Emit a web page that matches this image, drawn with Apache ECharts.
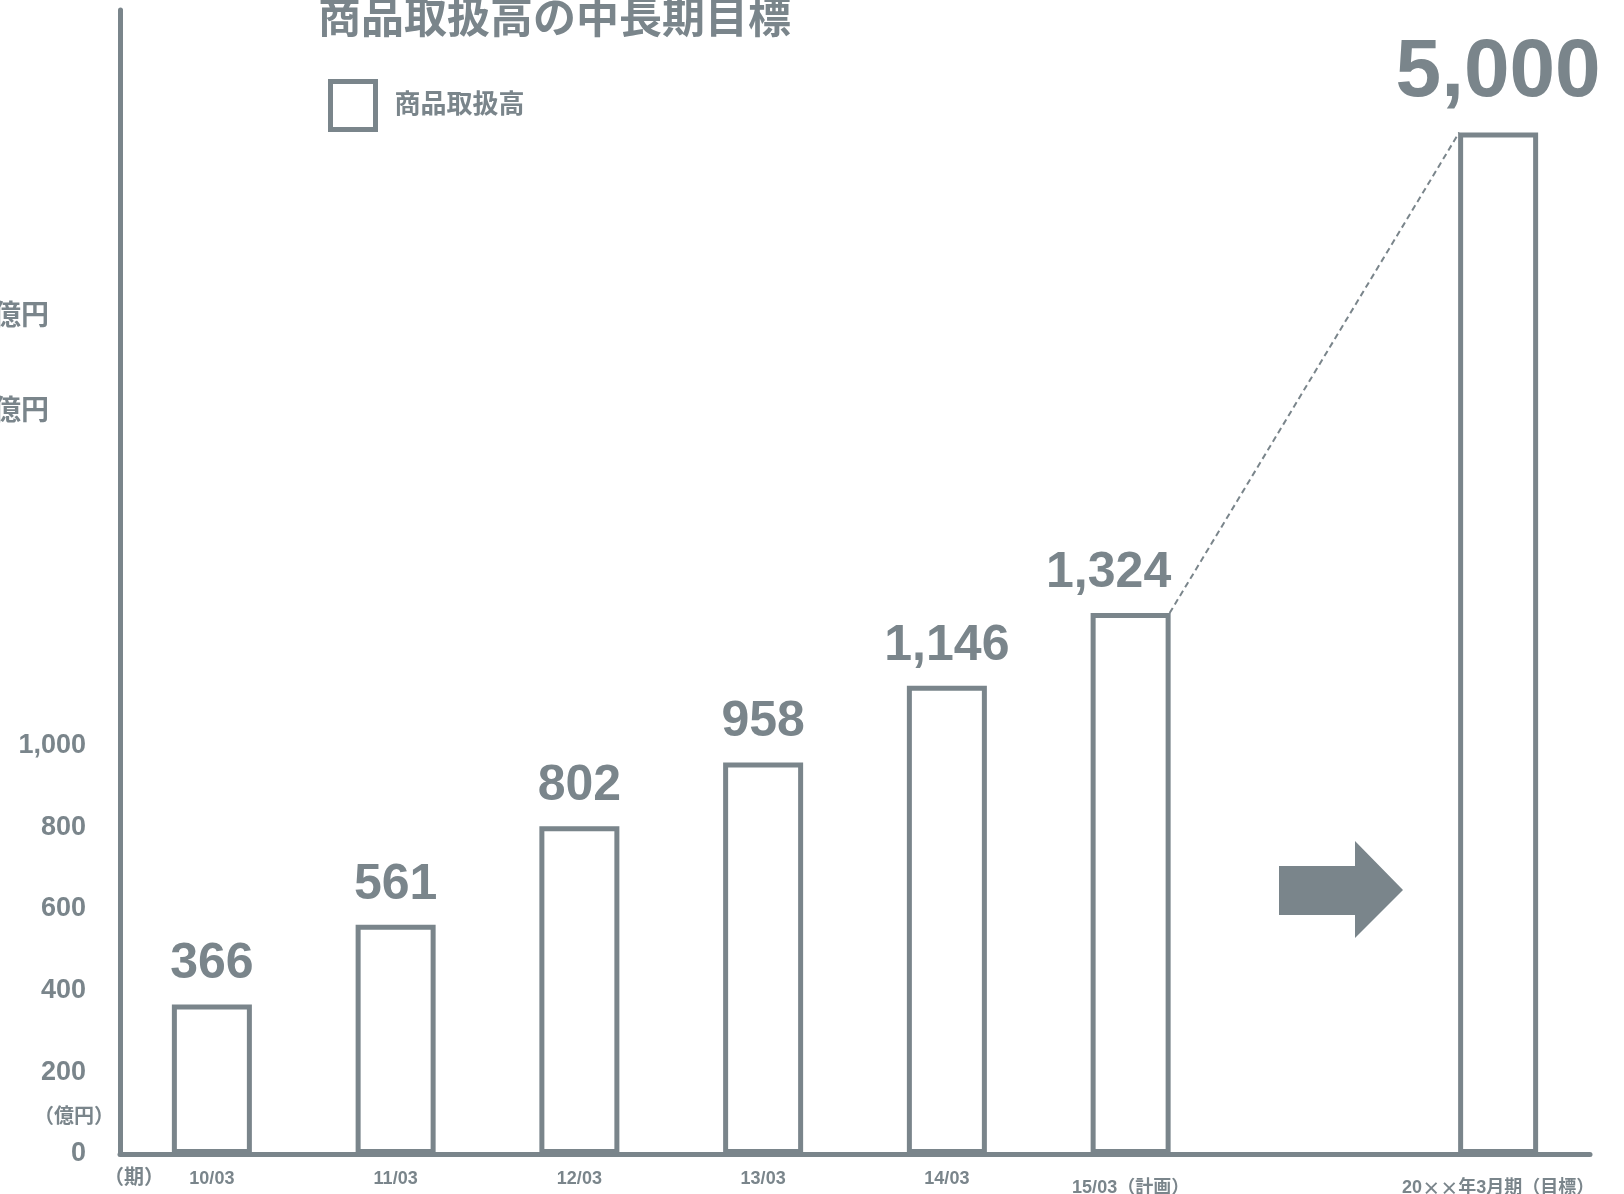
<!DOCTYPE html>
<html>
<head>
<meta charset="utf-8">
<script src="https://cdn.jsdelivr.net/npm/echarts@6/dist/echarts.min.js"></script>
<style>
html, body { margin: 0; padding: 0; background: #fff; }
#chart { width: 1624px; height: 1194px; }
</style>
</head>
<body>
<div id="chart"></div>
<script>
// 期
var categories = ['10/03', '11/03', '12/03', '13/03', '14/03', '15/03（計画）', '', '20××年3月期（目標）'];
// 商品取扱高（億円）, '-' = 矢印の入る空き枠
var amounts = [366, 561, 802, 958, 1146, 1324, '-', 5000];
var yTicks = [0, 200, 400, 600, 800, 1000];

var GREY = '#7a858b';
var FONT = '"Liberation Sans", "Noto Sans CJK JP", sans-serif';
var CJK = '"Noto Sans CJK JP", sans-serif';
var BAR_W = 80, BORDER = 5;

// 目標値は縦軸を省略して1/2スケールで描く
function drawValue(v) {
	if (v === '-') return v;
	return v > 2000 ? v / 2 : v;
}
function fmt(v) {
	return String(v).replace(/\B(?=(\d{3})+(?!\d))/g, ',');
}

var barData = [];
for (var i = 0; i < amounts.length; i++) {
	var item = { value: drawValue(amounts[i]) };
	if (i === 5) {
		item.label = { offset: [-22, 0] };
	}
	if (i === amounts.length - 1) {
		item.label = { fontSize: 82, distance: 18 };
	}
	barData.push(item);
}

var xData = [];
for (var j = 0; j < categories.length; j++) {
	var c = { value: categories[j] };
	if (j >= 5) c.textStyle = { padding: [9, 0, 0, 0] };
	xData.push(c);
}

var chart = echarts.init(document.getElementById('chart'));
var option = {
	backgroundColor: '#fff',
	animation: false,
	legend: {
		left: 323,
		top: 74,
		icon: 'rect',
		itemWidth: 45,
		itemHeight: 48,
		data: ['商品取扱高'],
		itemStyle: {
			color: '#fff',
			borderColor: GREY,
			borderWidth: 5
		},
		textStyle: {
			color: GREY,
			fontSize: 26,
			fontWeight: 'bold',
			fontFamily: FONT,
			padding: [10, 0, 0, 14]
		}
	},
	grid: {
		left: 120,
		right: 34,
		top: 10,
		bottom: 40,
		outerBoundsMode: 'none'
	},
	xAxis: {
		type: 'category',
		data: xData,
		axisLine: { lineStyle: { color: GREY, width: 5 } },
		axisTick: { show: false },
		axisLabel: {
			color: GREY,
			fontSize: 18,
			fontWeight: 'bold',
			fontFamily: FONT,
			margin: 16,
			interval: 0,
			formatter: function (v) {
				return v.replace(/×/g, '{x|×}');
			},
			rich: {
				x: { fontFamily: CJK, fontSize: 18, fontWeight: 'bold', color: GREY }
			}
		}
	},
	yAxis: {
		type: 'value',
		min: 0,
		max: 2800,
		interval: 200,
		splitLine: { show: false },
		axisTick: { show: false },
		axisLine: { show: true, lineStyle: { color: GREY, width: 5 } },
		axisLabel: {
			color: GREY,
			fontSize: 27,
			fontWeight: 'bold',
			fontFamily: FONT,
			margin: 34,
			formatter: function (v) {
				return yTicks.indexOf(v) >= 0 ? fmt(v) : '';
			}
		}
	},
	series: [{
		name: '商品取扱高',
		type: 'bar',
		barWidth: BAR_W,
		data: barData,
		itemStyle: {
			color: '#fff',
			borderColor: GREY,
			borderWidth: BORDER
		},
		label: {
			show: true,
			position: 'top',
			distance: 15,
			color: GREY,
			fontSize: 50,
			fontWeight: 'bold',
			fontFamily: FONT,
			formatter: function (p) {
				return fmt(amounts[p.dataIndex]);
			}
		}
	}]
};
chart.setOption(option);

// 15/03 の右上角から目標の左上角へ破線
var half = BAR_W / 2 - 1;
var a = chart.convertToPixel({ seriesIndex: 0 }, [5, drawValue(amounts[5])]);
var b = chart.convertToPixel({ seriesIndex: 0 }, [7, drawValue(amounts[7])]);

chart.setOption({
	graphic: [
		{
			type: 'text',
			left: 318,
			top: 0,
			style: {
				text: '商品取扱高の中長期目標',
				fill: GREY,
				font: 'bold 43px ' + FONT
			}
		},
		{
			type: 'text',
			x: 49, y: 317,
			style: { text: '億円', fill: GREY, font: 'bold 28px ' + FONT, align: 'right', verticalAlign: 'middle' }
		},
		{
			type: 'text',
			x: 49, y: 412,
			style: { text: '億円', fill: GREY, font: 'bold 28px ' + FONT, align: 'right', verticalAlign: 'middle' }
		},
		{
			type: 'text',
			x: 74, y: 1117,
			style: { text: '（億円）', fill: GREY, font: 'bold 20px ' + FONT, align: 'center', verticalAlign: 'middle' }
		},
		{
			type: 'text',
			x: 134, y: 1178,
			style: { text: '（期）', fill: GREY, font: 'bold 20px ' + FONT, align: 'center', verticalAlign: 'middle' }
		},
		{
			type: 'line',
			shape: { x1: a[0] + half, y1: a[1], x2: b[0] - half, y2: b[1] },
			style: { stroke: GREY, lineWidth: 2, lineDash: [6, 4] }
		},
		{
			type: 'polygon',
			shape: {
				points: [[1279, 866], [1355, 866], [1355, 841], [1403, 890], [1355, 938], [1355, 915], [1279, 915]]
			},
			style: { fill: GREY }
		}
	]
});
</script>
</body>
</html>
